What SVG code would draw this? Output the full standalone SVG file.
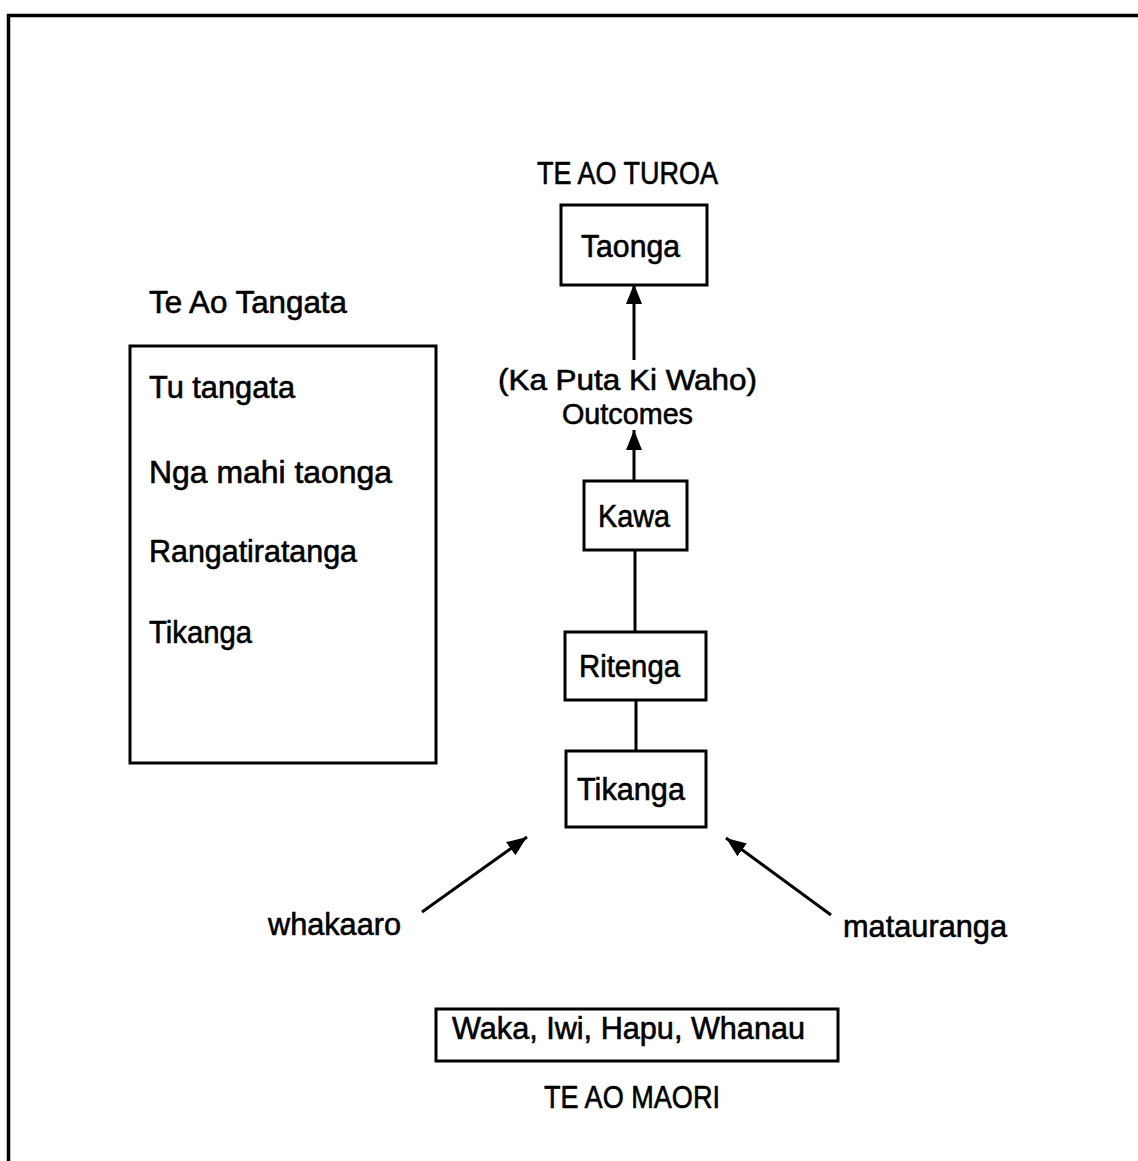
<svg xmlns="http://www.w3.org/2000/svg" width="1138" height="1161" viewBox="0 0 1138 1161">
  <style>
    .box { fill: #fff; stroke: #000; stroke-width: 3; }
    .t { font-family: "Liberation Sans", Arial, sans-serif; font-size: 31px; fill: #000; stroke: #000; stroke-width: 0.6; }
    .s { font-size: 30px; }
    .link { stroke: #000; stroke-width: 3; fill: none; }
  </style>
  <defs>
    <marker id="head" markerUnits="userSpaceOnUse" markerWidth="22" markerHeight="18" refX="20" refY="8" orient="auto">
      <path d="M0,0 L20,8 L0,16 Z" fill="#000"/>
    </marker>
  </defs>
  <rect width="1138" height="1161" fill="#fff"/>

  <!-- page frame: top and left edges -->
  <path d="M8.5,1161 V15.5 H1138" fill="none" stroke="#000" stroke-width="3.5"/>

  <!-- headings -->
  <text class="t" x="537" y="184" textLength="181" lengthAdjust="spacingAndGlyphs">TE AO TUROA</text>
  <text class="t" x="149" y="313" textLength="198" lengthAdjust="spacingAndGlyphs">Te Ao Tangata</text>
  <text class="t" x="544" y="1108" textLength="176" lengthAdjust="spacingAndGlyphs">TE AO MAORI</text>

  <!-- connectors -->
  <g id="connectors">
    <line class="link" x1="634" y1="360" x2="634" y2="284" marker-end="url(#head)"/>
    <line class="link" x1="634" y1="481" x2="634" y2="430" marker-end="url(#head)"/>
    <line class="link" x1="635" y1="550" x2="635" y2="632"/>
    <line class="link" x1="636" y1="700" x2="636" y2="751"/>
    <line class="link" x1="422" y1="912" x2="527" y2="837" marker-end="url(#head)"/>
    <line class="link" x1="831" y1="915" x2="726" y2="838" marker-end="url(#head)"/>
  </g>

  <!-- Te Ao Tangata list -->
  <g id="tangata">
    <rect class="box" x="130" y="346" width="306" height="417"/>
    <text class="t" x="149" y="398" textLength="146" lengthAdjust="spacingAndGlyphs">Tu tangata</text>
    <text class="t" x="149" y="483" textLength="243" lengthAdjust="spacingAndGlyphs">Nga mahi taonga</text>
    <text class="t" x="149" y="562" textLength="208" lengthAdjust="spacingAndGlyphs">Rangatiratanga</text>
    <text class="t" x="149" y="643" textLength="103" lengthAdjust="spacingAndGlyphs">Tikanga</text>
  </g>

  <g id="taonga">
    <rect class="box" x="561" y="205" width="146" height="80"/>
    <text class="t" x="581" y="257" textLength="99" lengthAdjust="spacingAndGlyphs">Taonga</text>
  </g>

  <g id="outcomes">
    <text class="t s" x="498" y="390" textLength="259" lengthAdjust="spacingAndGlyphs">(Ka Puta Ki Waho)</text>
    <text class="t s" x="562" y="424" textLength="131" lengthAdjust="spacingAndGlyphs">Outcomes</text>
  </g>

  <g id="kawa">
    <rect class="box" x="584" y="481" width="103" height="69"/>
    <text class="t" x="598" y="527" textLength="72" lengthAdjust="spacingAndGlyphs">Kawa</text>
  </g>

  <g id="ritenga">
    <rect class="box" x="565" y="632" width="141" height="68"/>
    <text class="t" x="579" y="677" textLength="101" lengthAdjust="spacingAndGlyphs">Ritenga</text>
  </g>

  <g id="tikanga">
    <rect class="box" x="566" y="751" width="140" height="76"/>
    <text class="t" x="577" y="800" textLength="108" lengthAdjust="spacingAndGlyphs">Tikanga</text>
  </g>

  <g id="whakaaro">
    <text class="t" x="268" y="935" textLength="133" lengthAdjust="spacingAndGlyphs">whakaaro</text>
  </g>

  <g id="matauranga">
    <text class="t" x="843" y="937" textLength="164" lengthAdjust="spacingAndGlyphs">matauranga</text>
  </g>

  <g id="waka">
    <rect class="box" x="436" y="1009" width="402" height="52"/>
    <text class="t" x="452" y="1039" textLength="353" lengthAdjust="spacingAndGlyphs">Waka, Iwi, Hapu, Whanau</text>
  </g>
</svg>
